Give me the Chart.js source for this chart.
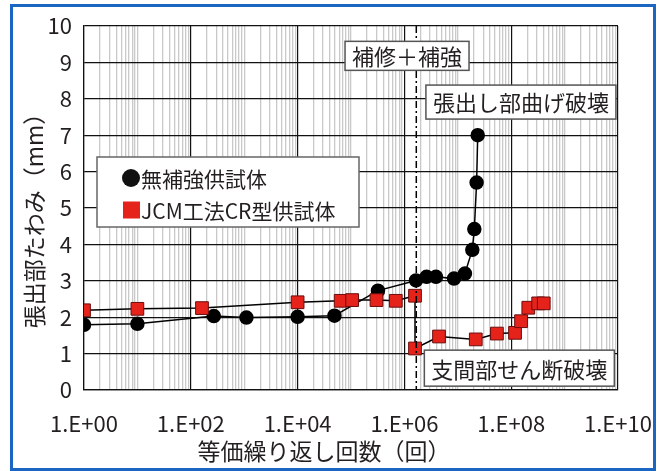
<!DOCTYPE html>
<html lang="ja">
<head>
<meta charset="utf-8">
<title>張出部たわみ</title>
<script src="https://cdn.jsdelivr.net/npm/chart.js@4.4.1/dist/chart.umd.min.js"></script>
<style>
  html, body { margin: 0; padding: 0; background: #fff; }
  #wrap { position: relative; width: 661px; height: 471px; }
  #frame {
    position: absolute; left: 10px; top: 4px; width: 646px; height: 467px;
    box-sizing: border-box; border: 3px solid #1a66c2;
  }
  #chart { position: absolute; left: 0; top: 0; }
</style>
</head>
<body>
<div id="wrap">
  <div id="frame"></div>
  <canvas id="chart" width="661" height="471"></canvas>
</div>
<script>
// 無補強供試体
const plainCycles = [1, 10, 270, 1100, 1e4, 4.9e4, 3.2e5, 1.65e6, 2.6e6, 3.9e6, 8.5e6, 1.36e7, 1.87e7, 2.04e7, 2.25e7, 2.36e7];
const plainDeflection = [1.79, 1.82, 2.03, 1.99, 2.01, 2.04, 2.73, 3.01, 3.11, 3.11, 3.06, 3.20, 3.85, 4.42, 5.70, 7.00];

// JCM工法CR型供試体
const jcmCycles = [1, 10, 162, 1e4, 6.4e4, 1.05e5, 3.0e5, 6.9e5, 1.58e6, 1.58e6, 4.45e6, 2.17e7, 5.4e7, 1.18e8, 1.53e8, 2.09e8, 3.2e8, 4.07e8];
const jcmDeflection = [2.19, 2.23, 2.25, 2.41, 2.45, 2.47, 2.47, 2.45, 2.59, 1.14, 1.47, 1.39, 1.55, 1.57, 1.89, 2.26, 2.38, 2.38];

const seriesLabels = ['無補強供試体', 'JCM工法CR型供試体'];
const xTickLabels = ['1.E+00', '1.E+02', '1.E+04', '1.E+06', '1.E+08', '1.E+10'];
const yTicks = [0, 1, 2, 3, 4, 5, 6, 7, 8, 9, 10];
const noteTexts = ['補修＋補強', '張出し部曲げ破壊', '支間部せん断破壊'];
const repairCycle = 1.67e6;

const FONT = '"Noto Sans CJK JP", "Noto Sans", sans-serif';
const TEXT = '#231f20';

// annotation boxes, anchored in data space
const notes = [
  { text: noteTexts[0], x: 1.12e6, y: 9.18, h: 29 },
  { text: noteTexts[1], x: 1.52e8, y: 7.91, h: 34 },
  { text: noteTexts[2], x: 1.42e8, y: 0.60, h: 36 }
];

function toPoints(xs, ys) {
  return xs.map((x, i) => ({ x: x, y: ys[i] }));
}

// every 1..9 x 10^n line on the log axis
function logGridValues() {
  const vals = [];
  for (let d = 0; d < 10; d++) {
    for (let k = 1; k <= 9; k++) vals.push(k * Math.pow(10, d));
  }
  vals.push(1e10);
  return vals;
}

function evenDecade(v) {
  const lg = Math.log10(v);
  const r = Math.round(lg);
  return Math.abs(lg - r) < 1e-9 && r % 2 === 0 ? r : -1;
}

const overlay = {
  id: 'overlay',
  afterDatasetsDraw(chart) {
    const { ctx, chartArea: a, scales: { x, y } } = chart;
    ctx.save();

    // repair line
    const rx = x.getPixelForValue(repairCycle);
    ctx.strokeStyle = '#000';
    ctx.lineWidth = 1.5;
    ctx.setLineDash([7, 3, 2, 3]);
    ctx.beginPath();
    ctx.moveTo(rx, a.top);
    ctx.lineTo(rx, a.bottom);
    ctx.stroke();
    ctx.setLineDash([]);

    // text boxes
    ctx.font = '22px ' + FONT;
    ctx.textAlign = 'center';
    ctx.textBaseline = 'middle';
    notes.forEach(n => {
      const cx = x.getPixelForValue(n.x);
      const cy = y.getPixelForValue(n.y);
      const w = ctx.measureText(n.text).width + 14;
      ctx.fillStyle = '#fff';
      ctx.fillRect(cx - w / 2, cy - n.h / 2, w, n.h);
      ctx.strokeStyle = '#555';
      ctx.lineWidth = 1.5;
      ctx.strokeRect(cx - w / 2, cy - n.h / 2, w, n.h);
      ctx.fillStyle = TEXT;
      ctx.fillText(n.text, cx, cy + 1);
    });

    // legend
    const lx = a.left + 13, ly = a.top + 131, lw = 262, lh = 70;
    ctx.fillStyle = '#fff';
    ctx.fillRect(lx, ly, lw, lh);
    ctx.strokeStyle = '#666';
    ctx.lineWidth = 1.5;
    ctx.strokeRect(lx, ly, lw, lh);
    ctx.textAlign = 'left';
    ctx.font = '21px ' + FONT;
    const rows = [ly + 21, ly + 53];
    ctx.fillStyle = '#111';
    ctx.beginPath();
    ctx.arc(lx + 34, rows[0], 9, 0, Math.PI * 2);
    ctx.fill();
    ctx.fillStyle = '#e5231b';
    ctx.fillRect(lx + 26, rows[1] - 8.5, 17, 17);
    ctx.fillStyle = TEXT;
    ctx.fillText(seriesLabels[0], lx + 44, rows[0] + 1);
    ctx.fillText(seriesLabels[1], lx + 44, rows[1] + 1);

    // axis titles
    ctx.font = '23px ' + FONT;
    ctx.textAlign = 'center';
    ctx.fillText('等価繰り返し回数（回）', 324, 451);
    ctx.translate(34, 215);
    ctx.rotate(-Math.PI / 2);
    ctx.fillText('張出部たわみ（mm）', 0, 0);
    ctx.restore();
  }
};

new Chart(document.getElementById('chart'), {
  type: 'scatter',
  data: {
    datasets: [
      {
        label: seriesLabels[0],
        data: toPoints(plainCycles, plainDeflection),
        showLine: true,
        borderColor: '#000',
        borderWidth: 1.5,
        pointStyle: 'circle',
        pointRadius: 6.5,
        pointBackgroundColor: '#000',
        pointBorderColor: '#000',
        order: 1
      },
      {
        label: seriesLabels[1],
        data: toPoints(jcmCycles, jcmDeflection),
        showLine: true,
        borderColor: '#000',
        borderWidth: 1.5,
        pointStyle: 'rect',
        pointRadius: 9,
        pointBackgroundColor: '#e5231b',
        pointBorderColor: '#6b0d0d',
        pointBorderWidth: 1,
        order: 0
      }
    ]
  },
  options: {
    responsive: false,
    animation: false,
    layout: { padding: { top: 26, right: 43, left: 0, bottom: 0 } },
    plugins: {
      legend: { display: false },
      tooltip: { enabled: false }
    },
    scales: {
      x: {
        type: 'logarithmic',
        min: 1,
        max: 1e10,
        afterBuildTicks: (scale) => {
          scale.ticks = logGridValues().map(v => ({ value: v }));
        },
        afterFit: (scale) => {
          scale.height = 81;
          // labels fit inside the layout padding already
          scale.paddingLeft = 0;
          scale.paddingRight = 0;
        },
        ticks: {
          autoSkip: false,
          maxRotation: 0,
          padding: 20,
          color: TEXT,
          font: { family: FONT, size: 22 },
          callback: (v) => {
            const d = evenDecade(v);
            return d >= 0 ? xTickLabels[d / 2] : '';
          }
        },
        grid: {
          drawTicks: false,
          color: (c) => (c.tick && evenDecade(c.tick.value) >= 0 ? '#111' : '#c9c9c9'),
          lineWidth: (c) => (c.tick && evenDecade(c.tick.value) >= 0 ? 1.2 : 1.3)
        },
        border: { color: '#111', width: 1.2 }
      },
      y: {
        min: 0,
        max: 10,
        afterBuildTicks: (scale) => {
          scale.ticks = yTicks.map(v => ({ value: v }));
        },
        afterFit: (scale) => { scale.width = 84; },
        ticks: {
          padding: 12,
          color: TEXT,
          font: { family: FONT, size: 22 }
        },
        grid: { drawTicks: false, color: '#111', lineWidth: 1.2 },
        border: { color: '#111', width: 1.2 }
      }
    }
  },
  plugins: [overlay]
});
</script>
</body>
</html>
